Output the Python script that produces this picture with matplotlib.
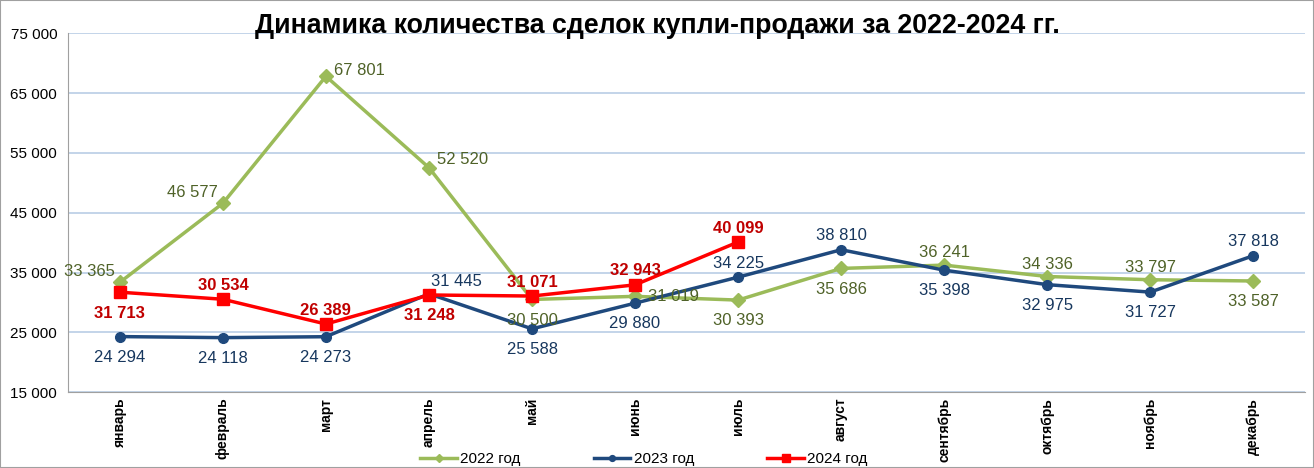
import matplotlib.pyplot as plt
import numpy as np

plt.rcParams['font.family'] = ['Liberation Sans', 'DejaVu Sans']

months = ["январь", "февраль", "март", "апрель", "май", "июнь", "июль",
          "август", "сентябрь", "октябрь", "ноябрь", "декабрь"]
v2022 = [33365, 46577, 67801, 52520, 30500, 31019, 30393, 35686, 36241, 34336, 33797, 33587]
v2023 = [24294, 24118, 24273, 31445, 25588, 29880, 34225, 38810, 35398, 32975, 31727, 37818]
v2024 = [31713, 30534, 26389, 31248, 31071, 32943, 40099]

# label placement: (dx, dy) in points
pos2022 = [(-22, 8), (-22, 8), (24, 4), (24, 6), (0, -15), (28, 0), (0, -15), (0, -15),
           (0, 9), (0, 9), (0, 9), (0, -15)]
pos2023 = [(0, -15), (0, -15), (0, -15), (20, 9), (0, -15), (0, -15), (0, 10), (0, 10),
           (0, -15), (0, -15), (0, -15), (0, 10)]
pos2024 = [(0, -15), (0, 10), (0, 10), (0, -15), (0, 10), (0, 10), (0, 10)]

def fmt(v):
    return "{:,}".format(v).replace(",", " ")

fig = plt.figure(figsize=(13.14, 4.68), dpi=100)
ax = fig.add_axes([0.052, 0.162, 0.941, 0.767])
x = np.arange(len(months))

c22, c23, c24 = "#9BBB59", "#1F497D", "#FF0000"
ax.plot(x, v2022, color=c22, lw=2.5, marker="D", ms=7, label="2022 год", zorder=3)
ax.plot(x, v2023, color=c23, lw=2.5, marker="o", ms=7, label="2023 год", zorder=4)
ax.plot(x[:len(v2024)], v2024, color=c24, lw=2.5, marker="s", ms=9, label="2024 год", zorder=5)

for xi, v, p in zip(x, v2022, pos2022):
    ax.annotate(fmt(v), (xi, v), xytext=p, textcoords="offset points",
                ha="center", va="center", fontsize=12, color="#4F6228", zorder=6)
for xi, v, p in zip(x, v2023, pos2023):
    ax.annotate(fmt(v), (xi, v), xytext=p, textcoords="offset points",
                ha="center", va="center", fontsize=12, color="#17375E", zorder=6)
for xi, v, p in zip(x, v2024, pos2024):
    ax.annotate(fmt(v), (xi, v), xytext=p, textcoords="offset points",
                ha="center", va="center", fontsize=12, color="#C00000",
                fontweight="bold", zorder=7)

ax.set_xlim(-0.5, 11.5)
ax.set_ylim(15000, 75000)
ax.set_yticks(range(15000, 75001, 10000))
ax.set_yticklabels([fmt(t) for t in range(15000, 75001, 10000)], fontsize=11)
ax.set_xticks(x)
ax.set_xticklabels(months, rotation=90, fontsize=10, fontweight="bold")
ax.tick_params(axis="both", length=0, pad=8)
ax.tick_params(axis="x", pad=4)
ax.grid(axis="y", color="#B9CDE5", lw=1.2)
ax.set_axisbelow(True)
for s in ["top", "right"]:
    ax.spines[s].set_visible(False)
ax.spines["left"].set_color("#A0A0A0")
ax.spines["bottom"].set_color("#A0A0A0")

fig.text(0.5, 0.945, "Динамика количества сделок купли-продажи за 2022-2024 гг.",
         fontsize=19.3, fontweight="bold", ha="center", va="center", zorder=10)
fig.legend(loc="lower center", ncol=3, frameon=False, fontsize=11,
           bbox_to_anchor=(0.49, -0.025), columnspacing=4.8, handlelength=2.4,
           handletextpad=0.2, markerscale=0.6)
fig.patches.append(plt.Rectangle((0, 0), 1, 1, transform=fig.transFigure,
                                 fill=False, ec="#A0A0A0", lw=1.5))
fig.savefig("out.png", dpi=100)
